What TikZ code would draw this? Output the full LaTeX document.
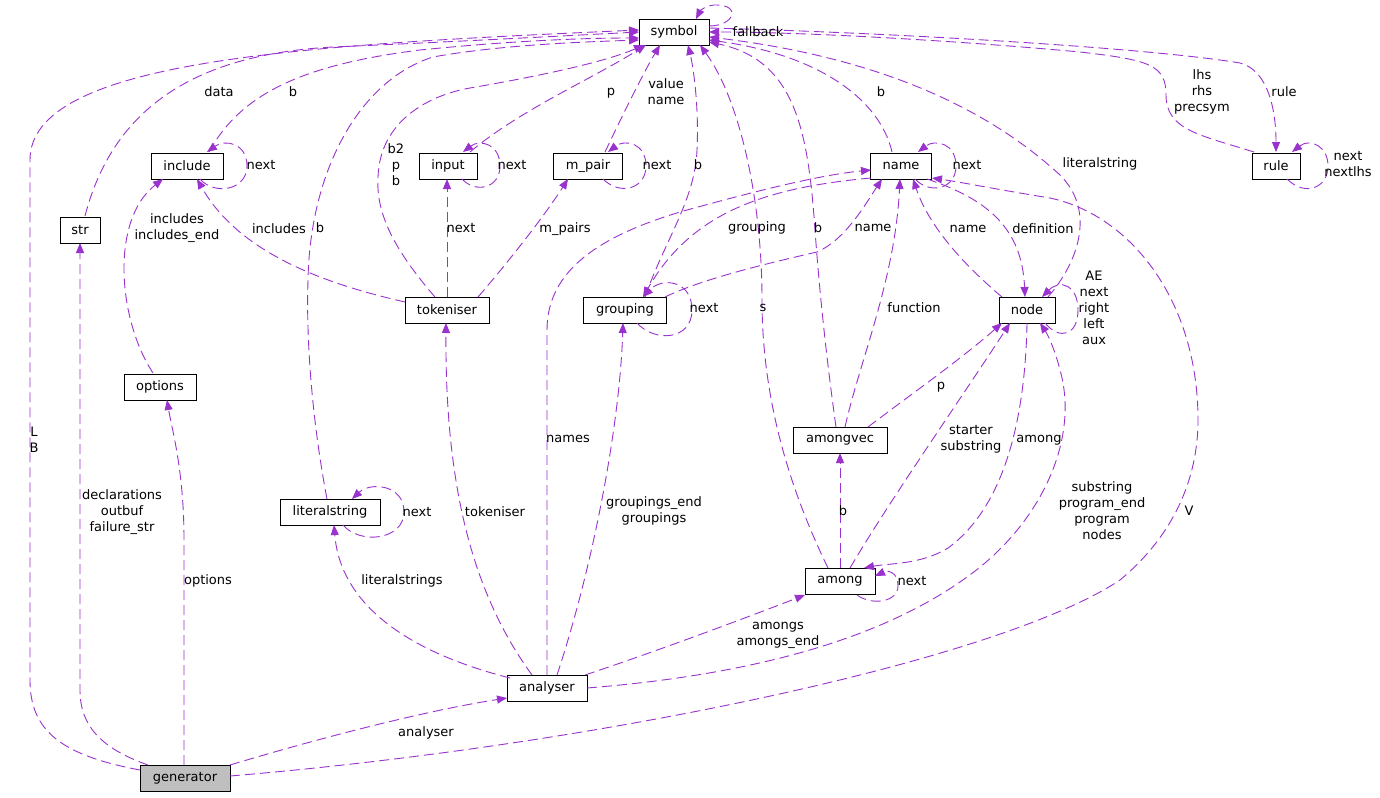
\documentclass[tikz,border=0pt]{standalone}
\usepackage{fontspec}
\setmainfont{DejaVu Sans}
\usetikzlibrary{arrows.meta,calc}
\definecolor{edgec}{HTML}{9A32CD}
\definecolor{genfill}{HTML}{BFBFBF}
\begin{document}
\begin{tikzpicture}[x=1pt,y=-1pt,
  cls/.style={draw=black,line width=0.9pt,minimum height=26pt,inner sep=0pt,font=\fontsize{13}{16}\selectfont},
  rel/.style={draw=edgec,line width=0.9pt,dash pattern=on 10pt off 5pt,-{Triangle[length=10pt,width=8pt]}},
  lbl/.style={font=\fontsize{13}{16}\selectfont,align=center,inner sep=0pt,text=black},
]
\useasboundingbox[fill=white] (0,0) rectangle (1380,797);

% classes
\node[cls,minimum width=70pt] (sym) at (674,32) {symbol};
\node[cls,minimum width=72pt] (inc) at (187,166) {include};
\node[cls,minimum width=40pt] (str) at (80,230) {str};
\node[cls,minimum width=58pt] (inp) at (448,166) {input};
\node[cls,minimum width=69pt] (mp) at (588,166) {m\_pair};
\node[cls,minimum width=61pt] (nam) at (901,166) {name};
\node[cls,minimum width=48pt] (rul) at (1276,166) {rule};
\node[cls,minimum width=84pt] (tok) at (447,310) {tokeniser};
\node[cls,minimum width=83pt] (grp) at (625,310) {grouping};
\node[cls,minimum width=56pt] (nod) at (1027,310) {node};
\node[cls,minimum width=72pt] (opt) at (160,387) {options};
\node[cls,minimum width=94pt] (avec) at (840,440) {amongvec};
\node[cls,minimum width=100pt] (lit) at (330,512) {literalstring};
\node[cls,minimum width=70pt] (amg) at (840,581) {among};
\node[cls,minimum width=80pt] (ana) at (547,688) {analyser};
\node[cls,minimum width=90pt,fill=genfill] (gen) at (185,778) {generator};

% generator edges
\draw[rel] ($(gen.center)+(-45,-8)$) .. controls (60,755) and (30,730) .. (30,680) -- (30,160) .. controls (30,60) and (300,45) .. ($(sym.center)+(-35,-2)$);
\draw[rel] ($(gen.center)+(-37,-13)$) .. controls (100,748) and (80,725) .. (80,690) -- ($(str.center)+(0,13)$);
\draw[rel] ($(gen.center)+(-1,-13)$) -- (184,540) .. controls (184,470) and (172,430) .. ($(opt.center)+(7,13)$);
\draw[rel] ($(gen.center)+(45,-13)$) .. controls (330,735) and (430,710) .. ($(ana.center)+(-40,10)$);
\draw[rel] ($(gen.center)+(45,-2)$) .. controls (600,745) and (1000,660) .. (1120,580) .. controls (1180,530) and (1198,470) .. (1198,420) .. controls (1198,300) and (1130,215) .. (1050,198) .. controls (1000,190) and (960,182) .. ($(nam.center)+(31,12)$);

% symbol edges
\draw[rel] ($(sym.center)+(35,-6)$) .. controls (735,26) and (742,4) .. (714,5) .. controls (705,6) and (700,11) .. ($(sym.center)+(22,-13)$);
\draw[rel] ($(str.center)+(5,-14)$) .. controls (110,120) and (180,55) .. (333,47) .. controls (450,42) and (560,36) .. ($(sym.center)+(-35,0)$);
\draw[rel] ($(inc.center)+(22,-14)$) .. controls (240,95) and (300,65) .. (420,50) .. controls (520,40) and (590,38) .. ($(sym.center)+(-35,6)$);
\draw[rel] ($(lit.center)+(-3,-13)$) .. controls (312,420) and (306,340) .. (308,280) .. controls (310,170) and (360,80) .. (433,57) .. controls (500,45) and (580,42) .. ($(sym.center)+(-35,8)$);
\draw[rel] ($(tok.center)+(-12,-13)$) .. controls (390,245) and (376,210) .. (378,177) .. controls (380,120) and (430,95) .. (470,88) .. controls (540,76) and (605,62) .. ($(sym.center)+(-30,13)$);
\draw[rel] ($(inp.center)+(22,-14)$) .. controls (520,110) and (590,80) .. ($(sym.center)+(-28,13)$);
\draw[rel] ($(mp.center)+(17,-14)$) .. controls (625,110) and (645,70) .. ($(sym.center)+(-14,13)$);
\draw[rel] ($(grp.center)+(20,-13)$) .. controls (665,240) and (695,200) .. (697,150) .. controls (699,110) and (694,70) .. ($(sym.center)+(14,13)$);
\draw[rel] ($(amg.center)+(-12,-13)$) .. controls (790,490) and (762,400) .. (762,300) .. controls (762,200) and (740,100) .. ($(sym.center)+(26,13)$);
\draw[rel] ($(avec.center)+(-4,-13)$) .. controls (828,370) and (820,300) .. (815,230) .. controls (808,130) and (795,60) .. ($(sym.center)+(35,10)$);
\draw[rel] ($(nam.center)+(-9,-14)$) .. controls (880,100) and (820,55) .. ($(sym.center)+(35,8)$);
\draw[rel] ($(nod.center)+(21,-13)$) .. controls (1080,260) and (1095,210) .. (1060,175) .. controls (1000,120) and (900,60) .. ($(sym.center)+(35,5)$);
\draw[rel] ($(rul.center)+(-22,-14)$) .. controls (1200,135) and (1166,130) .. (1166,95) .. controls (1166,65) and (1150,60) .. (1080,52) .. controls (950,40) and (800,32) .. ($(sym.center)+(35,0)$);
\draw[rel] ($(sym.center)+(35,-4)$) .. controls (900,33) and (1150,48) .. (1240,63) .. controls (1268,70) and (1276,110) .. ($(rul.center)+(0,-14)$);

% self loops
\draw[rel] ($(rul.center)+(11,13)$) .. controls (1305,197) and (1328,188) .. (1328,166) .. controls (1328,146) and (1310,138) .. ($(rul.center)+(16,-14)$);
\draw[rel] ($(inc.center)+(13,13)$) .. controls (215,196) and (247,190) .. (247,166) .. controls (247,143) and (225,139) .. ($(inc.center)+(20,-14)$);
\draw[rel] ($(inp.center)+(14,13)$) .. controls (476,194) and (500,188) .. (500,166) .. controls (500,144) and (480,139) .. ($(inp.center)+(15,-14)$);
\draw[rel] ($(mp.center)+(15,13)$) .. controls (620,196) and (646,189) .. (646,166) .. controls (646,143) and (625,139) .. ($(mp.center)+(20,-14)$);
\draw[rel] ($(nam.center)+(14,13)$) .. controls (930,195) and (956,189) .. (956,166) .. controls (956,143) and (935,139) .. ($(nam.center)+(17,-14)$);
\draw[rel] ($(grp.center)+(12,13)$) .. controls (655,343) and (692,340) .. (692,310) .. controls (692,280) and (662,277) .. ($(grp.center)+(18,-13)$);
\draw[rel] ($(nod.center)+(18,13)$) .. controls (1060,341) and (1078,335) .. (1078,310) .. controls (1078,285) and (1060,279) .. ($(nod.center)+(15,-13)$);
\draw[rel] ($(lit.center)+(13,13)$) .. controls (360,545) and (404,540) .. (404,512) .. controls (404,484) and (370,482) .. ($(lit.center)+(22,-13)$);
\draw[rel] ($(amg.center)+(17,14)$) .. controls (872,606) and (898,602) .. (898,586) .. controls (898,572) and (888,570) .. ($(amg.center)+(35,-5)$);

% name / grouping / node
\draw[rel] ($(ana.center)+(0,-13)$) -- (547,330) .. controls (547,270) and (600,235) .. (687,210) .. controls (760,190) and (820,175) .. ($(nam.center)+(-30,4)$);
\draw[rel] ($(grp.center)+(40,-13)$) .. controls (700,280) and (760,265) .. (817,252) .. controls (845,240) and (865,205) .. ($(nam.center)+(-19,13)$);
\draw[rel] ($(nam.center)+(-30,12)$) .. controls (760,188) and (690,215) .. ($(grp.center)+(18,-13)$);
\draw[rel] ($(nod.center)+(-25,-13)$) .. controls (970,270) and (930,230) .. ($(nam.center)+(12,13)$);
\draw[rel] ($(nam.center)+(26,13)$) .. controls (990,200) and (1022,230) .. ($(nod.center)+(-2,-13)$);
\draw[rel] ($(avec.center)+(5,-13)$) .. controls (860,360) and (895,280) .. ($(nam.center)+(-1,13)$);
\draw[rel] ($(avec.center)+(28,-13)$) .. controls (910,395) and (960,360) .. ($(nod.center)+(-25,13)$);
\draw[rel] ($(amg.center)+(10,-13)$) .. controls (890,500) and (960,400) .. ($(nod.center)+(-17,13)$);
\draw[rel] ($(nod.center)+(0,13)$) .. controls (1025,430) and (1000,510) .. (948,548) .. controls (920,565) and (890,563) .. ($(amg.center)+(24,-13)$);
\draw[rel] ($(amg.center)+(0,-13)$) -- ($(avec.center)+(0,13)$);

% analyser edges
\draw[rel] ($(ana.center)+(-37,-10)$) .. controls (400,650) and (340,600) .. ($(lit.center)+(4,13)$);
\draw[rel] ($(ana.center)+(-15,-13)$) .. controls (470,590) and (445,480) .. ($(tok.center)+(-1,13)$);
\draw[rel] ($(ana.center)+(10,-13)$) .. controls (595,560) and (620,420) .. ($(grp.center)+(-2,13)$);
\draw[rel] ($(ana.center)+(38,-13)$) .. controls (660,650) and (740,620) .. ($(amg.center)+(-35,14)$);
\draw[rel] ($(ana.center)+(40,0)$) .. controls (750,675) and (880,640) .. (967,577) .. controls (1040,525) and (1080,440) .. (1060,370) .. controls (1055,350) and (1048,335) .. ($(nod.center)+(13,13)$);

% tokeniser / options edges
\draw[rel] ($(tok.center)+(-42,-8)$) .. controls (330,285) and (240,255) .. ($(inc.center)+(10,13)$);
\draw[rel] ($(tok.center)+(0,-13)$) -- ($(inp.center)+(-1,13)$);
\draw[rel] ($(tok.center)+(31,-13)$) .. controls (510,260) and (545,215) .. ($(mp.center)+(-20,13)$);
\draw[rel] ($(opt.center)+(-7,-14)$) .. controls (118,320) and (110,220) .. ($(inc.center)+(-24,13)$);

% labels
\node[lbl] (t1) at (34,440) {L\\B};
\node[lbl] (t2) at (122,512) {declarations\\outbuf\\failure\_str};
\node[lbl] (t3) at (208,581) {options};
\node[lbl] (t4) at (426,733) {analyser};
\node[lbl] (t5) at (1189,511) {V};
\node[lbl] (t6) at (758,32) {fallback};
\node[lbl] (t7) at (219,92) {data};
\node[lbl] (t8) at (293,92) {b};
\node[lbl] (t9) at (320,228) {b};
\node[lbl] (t10) at (396,165) {b2\\p\\b};
\node[lbl] (t11) at (611,93) {p};
\node[lbl] (t12) at (666,92) {value\\name};
\node[lbl] (t13) at (698,165) {b};
\node[lbl] (t14) at (763,308) {s};
\node[lbl] (t15) at (818,228) {b};
\node[lbl] (t16) at (881,92) {b};
\node[lbl] (t17) at (1100,164) {literalstring};
\node[lbl] (t18) at (1202,92) {lhs\\rhs\\precsym};
\node[lbl] (t19) at (1284,92) {rule};
\node[lbl] (t20) at (1348,164) {next\\nextlhs};
\node[lbl] (t21) at (261,165) {next};
\node[lbl] (t22) at (512,165) {next};
\node[lbl] (t23) at (657,165) {next};
\node[lbl] (t24) at (967,165) {next};
\node[lbl] (t25) at (704,308) {next};
\node[lbl] (t26) at (1094,308) {AE\\next\\right\\left\\aux};
\node[lbl] (t27) at (417,512) {next};
\node[lbl] (t28) at (912,581) {next};
\node[lbl] (t29) at (568,439) {names};
\node[lbl] (t30) at (873,228) {name};
\node[lbl] (t31) at (757,228) {grouping};
\node[lbl] (t32) at (968,229) {name};
\node[lbl] (t33) at (1043,229) {definition};
\node[lbl] (t34) at (914,308) {function};
\node[lbl] (t35) at (941,387) {p};
\node[lbl] (t36) at (971,439) {starter\\substring};
\node[lbl] (t37) at (1039,440) {among};
\node[lbl] (t38) at (402,581) {literalstrings};
\node[lbl] (t39) at (495,512) {tokeniser};
\node[lbl] (t40) at (654,511) {groupings\_end\\groupings};
\node[lbl] (t41) at (778,635) {amongs\\amongs\_end};
\node[lbl] (t42) at (1102,511) {substring\\program\_end\\program\\nodes};
\node[lbl] (t43) at (843,511) {b};
\node[lbl] (t44) at (279,229) {includes};
\node[lbl] (t45) at (461,228) {next};
\node[lbl] (t46) at (565,229) {m\_pairs};
\node[lbl] (t47) at (177,228) {includes\\includes\_end};
\end{tikzpicture}
\end{document}
